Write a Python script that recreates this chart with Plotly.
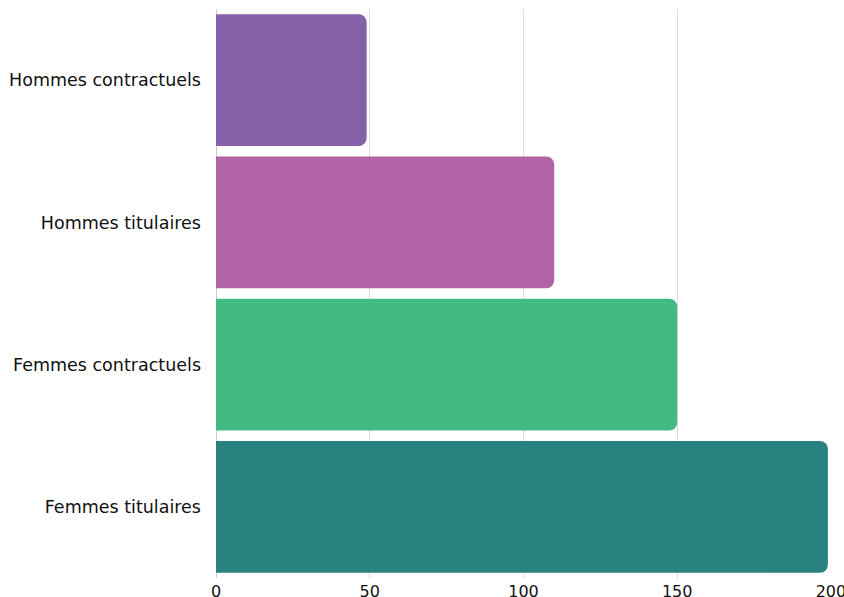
import plotly.graph_objects as go

categories = ["Femmes titulaires", "Femmes contractuels", "Hommes titulaires", "Hommes contractuels"]
values = [199, 150, 110, 49]
colors = ["#29827F", "#42BA81", "#B263A5", "#8761A7"]
x_ticks = [0, 50, 100, 150, 200]

fig = go.Figure(go.Bar(
    y=categories, x=values, orientation="h",
    marker=dict(color=colors, line=dict(width=0)),
))
fig.update_layout(
    width=844, height=597,
    margin=dict(l=216, r=13, t=9, b=19, autoexpand=False),
    paper_bgcolor="white", plot_bgcolor="white",
    bargap=0.073, barcornerradius=8,
    font=dict(family="DejaVu Sans, sans-serif", size=17.5, color="#111111"),
    showlegend=False,
)
fig.update_xaxes(range=[0, 200.02], tickvals=x_ticks, showgrid=True, gridcolor="#dcdcdc",
                 gridwidth=1, zeroline=True, zerolinecolor="#cccccc", zerolinewidth=1,
                 showline=False, ticks="", automargin=False, ticklabelstandoff=2,
                 ticklabeloverflow="allow", tickfont=dict(size=16))
fig.update_yaxes(showgrid=False, showline=False, ticks="", ticklabelstandoff=14, automargin=False)
fig.write_html("out.html", config={"displayModeBar": False},
               post_script="document.body.style.margin='0';")
